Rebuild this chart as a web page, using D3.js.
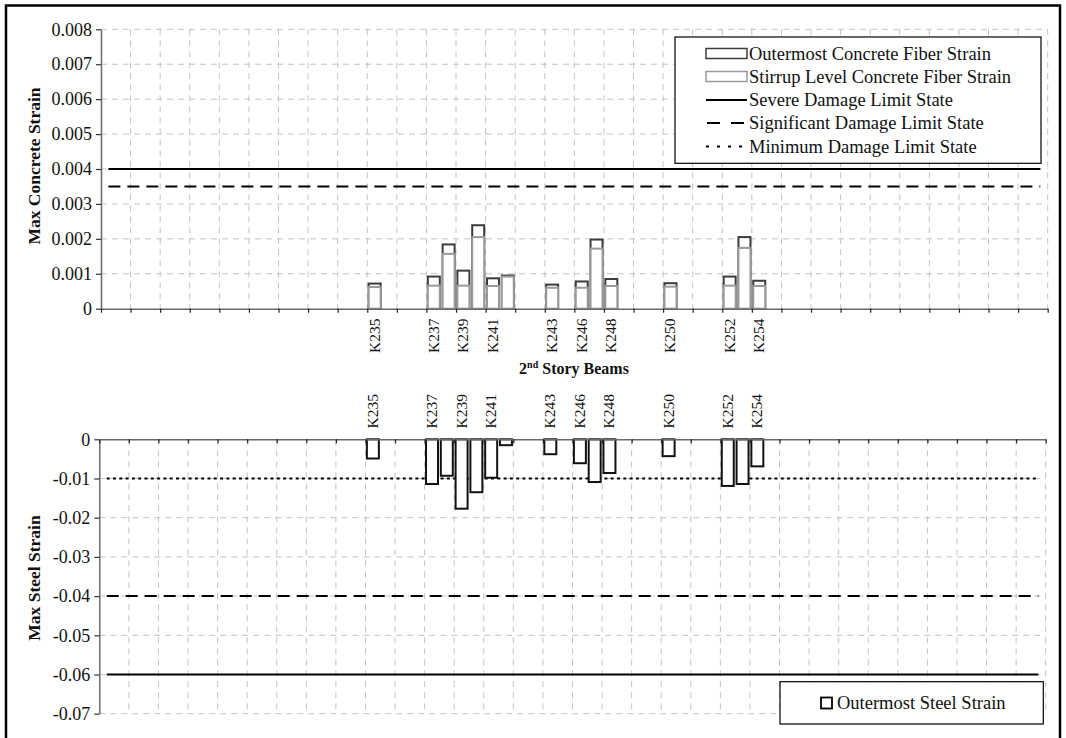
<!DOCTYPE html>
<html>
<head>
<meta charset="utf-8">
<script src="https://cdn.jsdelivr.net/npm/d3@7"></script>
<style>
  html, body { margin: 0; padding: 0; background: #fff; }
  svg { display: block; font-family: "Liberation Serif", "Times New Roman", serif; }
</style>
</head>
<body>
<svg id="chart" width="1066" height="738"></svg>
<script>
// Category slots along the beam axis (64 slots, labels every second slot)
const categories = [
  "", "", "", "", "", "", "", "", "", "", "", "", "", "", "", "", "", "",
  "K235", "", "", "", "K237", "K238", "K239", "K240", "K241", "K242", "", "",
  "K243", "", "K246", "K247", "K248", "", "", "", "K250", "", "", "",
  "K252", "K253", "K254",
  "", "", "", "", "", "", "", "", "", "", "", "", "", "", "", "", "", "", ""
];

// Beams carrying results
const beams = ["K235", "K237", "K238", "K239", "K240", "K241", "K242", "K243",
               "K246", "K247", "K248", "K250", "K252", "K253", "K254"];
const outerConcrete   = [0.00072, 0.00092, 0.00184, 0.00109, 0.00239, 0.00087, 0.00095, 0.00069,
                         0.00078, 0.00198, 0.00085, 0.00073, 0.00092, 0.00205, 0.00080];
const stirrupConcrete = [0.00062, 0.00066, 0.00157, 0.00066, 0.00205, 0.00065, 0.00092, 0.00060,
                         0.00060, 0.00172, 0.00065, 0.00063, 0.00066, 0.00174, 0.00065];
const outerSteel      = [-0.0049, -0.0114, -0.0093, -0.0177, -0.0135, -0.0098, -0.0015, -0.0038,
                         -0.0061, -0.0109, -0.0086, -0.0043, -0.0119, -0.0114, -0.0069];

// Damage limit states
const limitNames = ["Severe Damage Limit State", "Significant Damage Limit State", "Minimum Damage Limit State"];
const concreteLimits = [0.004, 0.0035];
const steelLimits = [-0.06, -0.04, -0.01];

// Axis ticks
const concreteTicks = [0, 0.001, 0.002, 0.003, 0.004, 0.005, 0.006, 0.007, 0.008];
const steelTicks = [0, -0.01, -0.02, -0.03, -0.04, -0.05, -0.06, -0.07];

const xTitle = "Story Beams";
const yTitleTop = "Max Concrete Strain";
const yTitleBottom = "Max Steel Strain";
const legendTop = ["Outermost Concrete Fiber Strain", "Stirrup Level Concrete Fiber Strain"];
const legendBottom = "Outermost Steel Strain";

const svg = d3.select("#chart");
const limitDash = ["none", "12,7", "3,3.3"];
const gridColor = "#c4c4c4";
const nSlots = categories.length;

// outer frame
svg.append("rect").attr("x", 6).attr("y", 5.5).attr("width", 1054).attr("height", 745)
  .attr("fill", "none").attr("stroke", "#000").attr("stroke-width", 2.5);

function panel(opts) {
  const g = svg.append("g");
  const band = d3.scaleBand().domain(d3.range(nSlots)).range([opts.x0, opts.x1])
    .paddingInner(0.19).paddingOuter(0.095);
  const slot = d3.scaleLinear().domain([0, nSlots]).range([opts.x0, opts.x1]);
  const y = d3.scaleLinear().domain(opts.yDomain).range(opts.yRange);
  const yTopPx = Math.min(...opts.yRange), yBotPx = Math.max(...opts.yRange);

  // gridlines
  g.append("g").selectAll("line").data(opts.ticks.filter(v => v !== 0)).join("line")
    .attr("x1", opts.x0).attr("x2", opts.x1)
    .attr("y1", d => y(d)).attr("y2", d => y(d))
    .attr("stroke", gridColor).attr("stroke-width", 1).attr("stroke-dasharray", "6,5");
  g.append("g").selectAll("line").data(d3.range(2, nSlots + 1, 2)).join("line")
    .attr("x1", d => slot(d)).attr("x2", d => slot(d))
    .attr("y1", yTopPx).attr("y2", yBotPx)
    .attr("stroke", gridColor).attr("stroke-width", 1).attr("stroke-dasharray", "6,5");

  // limit-state lines through the slot centres
  const cx = i => band(i) + band.bandwidth() / 2;
  opts.limits.forEach((v, k) => {
    const line = d3.line().x(i => cx(i)).y(() => y(v));
    g.append("path").datum(d3.range(nSlots)).attr("d", line)
      .attr("fill", "none").attr("stroke", "#000").attr("stroke-width", 2)
      .attr("stroke-dasharray", limitDash[k]);
  });

  // bars
  opts.series.forEach(s => {
    g.append("g").selectAll("rect").data(beams.map((b, i) => ({ b, v: s.values[i] }))).join("rect")
      .attr("x", d => band(categories.indexOf(d.b)))
      .attr("width", band.bandwidth())
      .attr("y", d => Math.min(y(d.v), y(0)))
      .attr("height", d => Math.abs(y(d.v) - y(0)))
      .attr("fill", "#fff").attr("stroke", s.color).attr("stroke-width", 2);
  });

  // y axis
  const ya = g.append("g").attr("transform", `translate(${opts.x0},0)`)
    .call(d3.axisLeft(y).tickValues(opts.ticks).tickSize(5).tickSizeOuter(0).tickPadding(4).tickFormat(opts.fmt));
  ya.select(".domain").attr("stroke", "#6a6a6a").attr("stroke-width", 1.5);
  ya.selectAll(".tick line").attr("stroke", "#333").attr("stroke-width", 1.2);
  ya.selectAll(".tick text").attr("font-size", 18).attr("fill", "#111")
    .attr("font-family", "Liberation Serif");

  // category axis (ticks every second slot)
  const xa = g.append("g").attr("transform", `translate(0,${y(0)})`)
    .call(d3.axisBottom(slot).tickValues(d3.range(0, nSlots + 1, 2)).tickSize(4).tickSizeOuter(0).tickFormat(""));
  xa.select(".domain").attr("stroke", "#6a6a6a").attr("stroke-width", 1.5);
  xa.selectAll(".tick line").attr("stroke", "#222").attr("stroke-width", 1.2);

  // category labels
  const labelled = d3.range(nSlots).filter(i => i % 2 === 0 && categories[i]);
  g.append("g").selectAll("text").data(labelled).join("text")
    .attr("transform", i => `translate(${cx(i) + 5},${opts.labelY}) rotate(-90)`)
    .attr("text-anchor", opts.labelAnchor)
    .attr("font-size", 15.5).attr("fill", "#111")
    .text(i => categories[i]);

  // y title
  g.append("text")
    .attr("transform", `translate(${opts.titleX},${opts.titleY}) rotate(-90)`)
    .attr("text-anchor", "middle").attr("font-weight", "bold").attr("font-size", 17.5)
    .attr("fill", "#111").text(opts.title);
}

panel({
  x0: 101, x1: 1047.7, yDomain: [0, 0.008], yRange: [308.7, 29.3],
  ticks: concreteTicks, limits: concreteLimits,
  fmt: d => d === 0 ? "0" : d.toFixed(3),
  series: [
    { values: outerConcrete, color: "#3c3c3c" },
    { values: stirrupConcrete, color: "#9a9a9a" }
  ],
  labelY: 318.5, labelAnchor: "end",
  title: yTitleTop, titleX: 40, titleY: 166
});

panel({
  x0: 99.3, x1: 1045.7, yDomain: [-0.07, 0], yRange: [713.7, 439.3],
  ticks: steelTicks, limits: steelLimits,
  fmt: d => d === 0 ? "0" : "-" + Math.abs(d).toFixed(2),
  series: [{ values: outerSteel, color: "#111" }],
  labelY: 428.5, labelAnchor: "start",
  title: yTitleBottom, titleX: 40, titleY: 578
});

// x axis title with superscript
const xt = svg.append("text").attr("x", 574).attr("y", 374).attr("text-anchor", "middle")
  .attr("font-weight", "bold").attr("font-size", 16).attr("fill", "#111");
xt.append("tspan").text("2");
xt.append("tspan").attr("font-size", 10).attr("dy", -6).text("nd");
xt.append("tspan").attr("dy", 6).text(" " + xTitle);

// legend for the concrete panel
const lg = svg.append("g");
lg.append("rect").attr("x", 675).attr("y", 37).attr("width", 366).attr("height", 126.3)
  .attr("fill", "#fff").attr("stroke", "#000").attr("stroke-width", 1.2);
const rowY = [53.5, 76.5, 100, 123, 146.5];
const sym0 = 706, sym1 = 747;
lg.append("rect").attr("x", sym0).attr("y", rowY[0] - 5).attr("width", sym1 - sym0).attr("height", 10)
  .attr("fill", "#fff").attr("stroke", "#3c3c3c").attr("stroke-width", 1.5);
lg.append("rect").attr("x", sym0).attr("y", rowY[1] - 5).attr("width", sym1 - sym0).attr("height", 10)
  .attr("fill", "#fff").attr("stroke", "#9a9a9a").attr("stroke-width", 1.5);
[["none"], ["13,11"], ["3,8"]].forEach((d, k) => {
  lg.append("line").attr("x1", sym0 + (k === 1 ? 1 : 0)).attr("x2", sym1).attr("y1", rowY[2 + k]).attr("y2", rowY[2 + k])
    .attr("stroke", "#000").attr("stroke-width", 2).attr("stroke-dasharray", d[0]);
});
const legendLabels = legendTop.concat(limitNames);
lg.selectAll("text.l").data(legendLabels).join("text")
  .attr("x", 749).attr("y", (d, i) => rowY[i] + 6).attr("font-size", 18.5).attr("fill", "#111")
  .text(d => d);

// legend for the steel panel
const lb = svg.append("g");
lb.append("rect").attr("x", 780).attr("y", 681.7).attr("width", 263.3).attr("height", 42.3)
  .attr("fill", "#fff").attr("stroke", "#000").attr("stroke-width", 1.2);
lb.append("rect").attr("x", 821).attr("y", 697.5).attr("width", 11).attr("height", 11)
  .attr("fill", "#fff").attr("stroke", "#000").attr("stroke-width", 1.8);
lb.append("text").attr("x", 837).attr("y", 709).attr("font-size", 18.5).attr("fill", "#111")
  .text(legendBottom);
</script>
</body>
</html>
